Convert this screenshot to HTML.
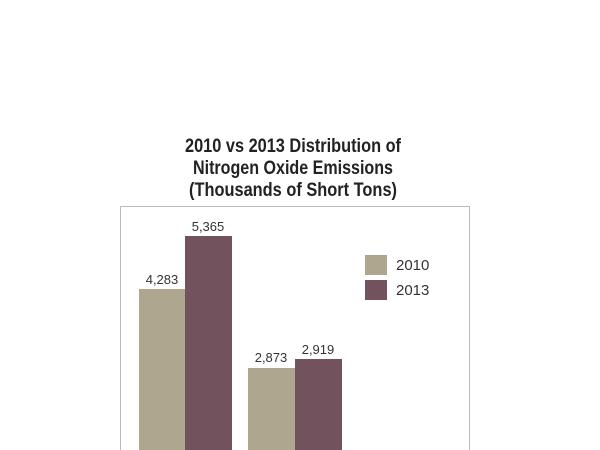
<!DOCTYPE html>
<html><head><style>body{margin:0;background:#fff}</style></head><body>
<svg width="600" height="450" xmlns="http://www.w3.org/2000/svg" style="display:block">
<rect width="600" height="450" fill="#fff"/>
<g font-family="'Liberation Sans Narrow','Liberation Sans',sans-serif" font-weight="bold" font-size="19" fill="#222" text-anchor="middle">
<text x="293" y="152" textLength="216" lengthAdjust="spacingAndGlyphs">2010 vs 2013 Distribution of</text>
<text x="293" y="174" textLength="200" lengthAdjust="spacingAndGlyphs">Nitrogen Oxide Emissions</text>
<text x="293" y="196" textLength="208" lengthAdjust="spacingAndGlyphs">(Thousands of Short Tons)</text>
</g>
<rect x="120.5" y="206.5" width="349" height="260" fill="none" stroke="#bbb" stroke-width="1"/>
<rect x="139" y="289" width="46" height="170" fill="#aea68f"/>
<rect x="185" y="236" width="47" height="220" fill="#72525c"/>
<rect x="248" y="368" width="47" height="90" fill="#aea68f"/>
<rect x="295" y="359" width="47" height="100" fill="#72525c"/>
<rect x="365" y="255" width="22" height="20" fill="#aea68f"/>
<rect x="365" y="280" width="22" height="20" fill="#72525c"/>
<g font-family="'Liberation Sans Narrow','Liberation Sans',sans-serif" font-size="13" fill="#333">
<text x="162" y="284" text-anchor="middle">4,283</text>
<text x="208" y="231" text-anchor="middle">5,365</text>
<text x="271" y="362" text-anchor="middle">2,873</text>
<text x="318" y="354" text-anchor="middle">2,919</text>
<text x="396" y="270" font-size="15">2010</text>
<text x="396" y="295" font-size="15">2013</text>
</g>
</svg>
</body></html>
